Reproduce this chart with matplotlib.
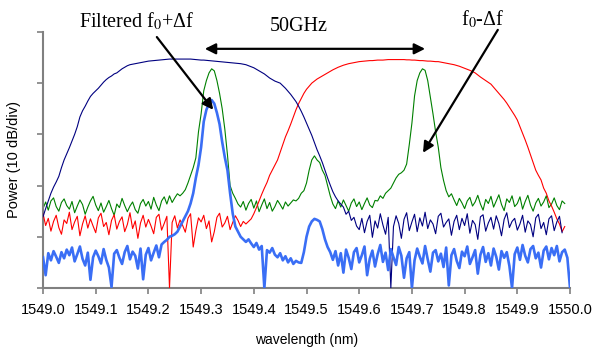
import numpy as np
import matplotlib
matplotlib.use('Agg')
import matplotlib.pyplot as plt

plt.rcParams['mathtext.fontset'] = 'stix'

# wavelength sampling grid (nm), 0.005 nm step
wl = np.linspace(1549.0, 1550.0, 201)

# power traces in dB (10 dB/div)
green = [
    -34.5, -33.2, -34.8, -33.0, -32.4, -34.1, -35.0, -33.3, -32.6, -33.9,
    -34.6, -33.1, -35.3, -34.0, -32.8, -33.7, -35.6, -34.2, -33.0, -32.1,
    -33.8, -34.9, -33.4, -35.2, -34.1, -32.9, -34.5, -35.8, -33.6, -34.3,
    -32.5, -33.9, -35.1, -34.0, -33.2, -34.7, -35.4, -33.5, -32.7, -34.0,
    -33.1, -34.6, -32.3, -33.8, -34.9, -33.0, -32.2, -33.6, -32.0, -33.3,
    -32.4, -31.6, -32.0, -31.5, -30.8, -29.5, -28.0, -26.5, -24.6, -19.5,
    -16.0, -11.5, -9.5, -8.0, -7.2, -7.6, -9.5, -12.0, -15.0, -19.0,
    -24.0, -30.0, -31.5, -32.5, -33.6, -34.2, -33.1, -34.8, -33.5, -32.7,
    -34.4, -33.0, -35.1, -33.8, -32.6, -34.5, -33.3, -35.0, -34.1, -32.9,
    -33.7, -34.6, -33.2, -34.0, -33.4, -32.8, -33.0, -32.5, -31.5, -31.0,
    -29.5, -27.0, -25.0, -24.2, -25.0, -25.5, -27.0, -28.0, -30.0, -32.0,
    -33.6, -34.5, -33.0, -34.2, -32.8, -33.9, -35.0, -33.4, -32.6, -34.1,
    -33.2, -34.7, -33.5, -32.4, -33.8, -34.3, -32.9, -33.0, -32.0, -32.5,
    -31.5, -31.0, -30.5, -29.5, -28.5, -27.8, -27.5, -27.0, -25.8, -22.0,
    -17.8, -12.5, -9.5, -8.0, -7.2, -7.5, -9.5, -12.7, -16.0, -19.5,
    -22.5, -26.5, -29.0, -31.0, -32.2, -31.6, -32.8, -33.9, -32.5, -33.4,
    -34.5, -33.0, -32.3, -34.0, -33.2, -31.9, -33.6, -34.8, -32.7, -33.5,
    -32.1, -34.2, -33.0, -31.8, -33.7, -34.9, -32.6, -33.3, -32.0, -34.1,
    -33.5, -32.2, -34.6, -33.1, -31.9, -33.8, -35.0, -33.4, -32.5, -34.0,
    -33.2, -32.0, -34.3, -33.6, -32.4, -33.9, -34.7, -33.0, -33.5, np.nan,
    np.nan]

filtered = [
    -44.0, -47.5, -43.2, -44.6, -42.8, -43.9, -45.1, -43.0, -44.2, -42.5,
    -43.6, -42.1, -44.8, -43.4, -41.9, -44.3, -45.6, -43.1, -48.4, -44.0,
    -42.7, -43.8, -45.2, -42.4, -44.5, -46.0, -49.8, -43.3, -42.6, -44.1,
    -45.3, -43.0, -41.8, -44.4, -42.9, -43.7, -46.2, -42.3, -48.3, -43.5,
    -42.2, -44.6, -43.1, -41.7, -44.0, -41.5, -41.0, -40.6, -40.0, -39.8,
    -39.5, -39.0, -38.0, -37.0, -36.0, -35.0, -33.5, -31.5, -28.5, -26.0,
    -22.5, -17.5, -15.2, -14.0, -13.3, -14.0, -15.8, -18.0, -21.5, -24.5,
    -27.0, -31.5, -35.5, -38.0, -39.0, -40.0, -40.5, -41.0, -40.5, -41.3,
    -42.0, -41.2, -42.5, -41.8, -50.0, -42.6, -43.1, -42.2, -43.5, -44.0,
    -43.2, -44.6, -43.8, -45.0, -44.2, -45.3, -44.7, -45.0, -45.1, -43.0,
    -40.0, -38.0, -37.0, -36.5, -36.7, -37.0, -38.5, -40.5, -42.0, -43.0,
    -44.5, -42.8, -45.6, -43.2, -47.0, -42.5, -44.1, -46.3, -43.0, -42.2,
    -45.0, -43.6, -41.9, -47.5, -44.3, -42.7, -45.8, -43.4, -41.6, -44.9,
    -43.1, -46.5, -42.4, -44.0, -45.5, -42.0, -43.7, -48.0, -44.2, -43.0,
    -50.0, -44.6, -42.3, -43.9, -45.2, -41.8, -44.4, -46.8, -43.1, -42.6,
    -44.8, -43.3, -45.9, -42.1, -49.5, -43.6, -42.4, -44.7, -46.1, -42.9,
    -43.8, -41.9, -45.3, -44.0, -42.6, -47.2, -43.5, -42.0, -44.9, -43.2,
    -45.6, -42.3, -43.9, -46.4, -42.8, -44.1, -43.0, -45.7, -50.0, -43.4,
    -42.1, -44.5, -41.6, -43.7, -45.0, -42.4, -41.8, -44.2, -43.1, -46.0,
    -42.7, -41.9, -44.4, -42.2, -43.6, -41.8, -44.8, -43.0, -42.5, -44.1,
    -50.0]

filter_minus = [
    -35.5, -37.8, -36.4, -38.9, -37.0, -35.8, -38.2, -39.5, -36.7, -37.4,
    -35.2, -38.6, -37.1, -36.0, -39.8, -37.5, -35.9, -38.3, -36.5, -37.9,
    -39.2, -36.3, -35.4, -38.0, -37.2, -39.6, -36.8, -35.7, -38.5, -37.0,
    -36.1, -39.0, -37.6, -35.3, -38.4, -36.9, -40.3, -37.3, -35.8, -38.1,
    -36.6, -37.9, -39.4, -36.2, -35.6, -38.7, -37.4, -36.0, -50.0, -37.2,
    -35.9, -38.3, -36.7, -37.8, -39.1, -36.4, -35.5, -42.0, -38.8, -36.3,
    -37.1, -35.8, -38.4, -36.9, -41.0, -39.0, -36.2, -35.4, -38.1, -37.3,
    -36.0, -38.6, -37.2, -35.9, -36.8, -38.0, -37.0, -37.5, -37.0, -36.5,
    -35.5, -34.3, -33.0, -31.7, -30.5, -29.4, -28.0, -27.0, -26.0, -25.0,
    -23.5, -22.0, -20.5, -19.3, -18.0, -16.6, -15.2, -14.0, -13.0, -12.0,
    -11.2, -10.6, -10.0, -9.6, -9.2, -8.9, -8.6, -8.3, -8.0, -7.7,
    -7.4, -7.15, -6.9, -6.7, -6.5, -6.35, -6.2, -6.1, -6.0, -5.9,
    -5.8, -5.75, -5.7, -5.65, -5.6, -5.6, -5.55, -5.5, -5.5, -5.5,
    -5.45, -5.4, -5.4, -5.4, -5.4, -5.4, -5.4, -5.4, -5.45, -5.45,
    -5.5, -5.5, -5.55, -5.6, -5.6, -5.65, -5.7, -5.7, -5.75, -5.8,
    -5.8, -5.9, -6.0, -6.1, -6.2, -6.3, -6.4, -6.55, -6.7, -6.9,
    -7.1, -7.3, -7.5, -7.75, -8.0, -8.4, -8.8, -9.15, -9.5, -9.85,
    -10.2, -10.8, -11.4, -12.0, -12.6, -13.2, -13.9, -14.7, -15.5, -16.3,
    -17.2, -18.5, -19.8, -21.1, -22.5, -24.0, -25.5, -27.0, -28.0, -28.9,
    -30.5, -31.5, -33.0, -34.0, -35.2, -36.5, -37.5, -39.0, -38.0, np.nan,
    np.nan]

filter_plus = [
    -36.1, -34.5, -33.0, -31.5, -30.3, -29.3, -28.2, -26.5, -25.0, -23.8,
    -22.6, -21.3, -20.0, -18.5, -16.6, -15.4, -14.5, -13.5, -12.6, -12.0,
    -11.5, -11.0, -10.4, -9.8, -9.3, -8.9, -8.6, -8.2, -8.0, -7.6,
    -7.2, -6.9, -6.6, -6.4, -6.3, -6.2, -6.1, -6.0, -5.9, -5.8,
    -5.7, -5.65, -5.6, -5.55, -5.5, -5.45, -5.4, -5.35, -5.3, -5.3,
    -5.3, -5.3, -5.3, -5.3, -5.3, -5.3, -5.3, -5.35, -5.4, -5.45,
    -5.5, -5.5, -5.55, -5.6, -5.65, -5.7, -5.75, -5.8, -5.85, -5.9,
    -5.95, -6.0, -6.05, -6.1, -6.15, -6.2, -6.3, -6.4, -6.6, -6.8,
    -7.0, -7.3, -7.6, -7.9, -8.2, -8.6, -9.0, -9.3, -9.6, -9.8,
    -10.0, -10.5, -11.0, -11.6, -12.2, -12.9, -13.6, -14.5, -15.5, -16.6,
    -17.8, -19.0, -20.2, -21.6, -23.0, -24.2, -25.5, -27.0, -28.5, -29.9,
    -31.2, -32.2, -33.0, -33.6, -34.2, -35.6, -35.0, -36.8, -36.2, -37.9,
    -38.6, -36.4, -39.2, -37.0, -35.8, -40.1, -36.9, -38.3, -35.5, -37.7,
    -39.5, -36.2, -50.0, -38.0, -35.9, -37.4, -40.3, -36.6, -35.3, -38.8,
    -37.1, -35.6, -39.0, -36.3, -37.9, -35.2, -38.4, -36.7, -37.5, -39.4,
    -36.0, -35.4, -38.1, -37.2, -36.5, -39.7, -37.0, -35.8, -38.6, -36.4,
    -37.8, -35.5, -39.3, -36.8, -37.6, -40.5, -36.1, -35.7, -38.9, -37.3,
    -36.2, -38.5, -35.9, -37.4, -39.8, -36.6, -35.3, -38.2, -37.0, -36.4,
    -38.7, -37.5, -35.8, -39.1, -36.9, -37.6, -40.0, -36.3, -35.6, -38.4,
    -37.2, -39.6, -36.5, -35.9, -38.8, -37.1, -36.0, -39.2, np.nan, np.nan,
    np.nan]

xtick_vals = [1549.0, 1549.1, 1549.2, 1549.3, 1549.4, 1549.5,
              1549.6, 1549.7, 1549.8, 1549.9, 1550.0]
ytick_vals = [-50, -40, -30, -20, -10, 0]

fig = plt.figure(figsize=(5.95, 3.47), dpi=100)
ax = fig.add_axes([0.0723, 0.170, 0.8857, 0.738])

ax.plot(wl, green, color='#008000', lw=0.8, zorder=2)
ax.plot(wl, filter_minus, color='#ff0000', lw=0.8, zorder=3)
ax.plot(wl, filter_plus, color='#000080', lw=0.8, zorder=3)
ax.plot(wl, filtered, color='#3a6ef5', lw=1.9, zorder=4)

ax.set_xlim(1549.0, 1550.0)
ax.set_ylim(-50, 0)
ax.set_xticks(xtick_vals)
ax.set_xticklabels([f'{v:.1f}' for v in xtick_vals],
                   fontfamily='Liberation Sans', fontsize=10.5)
ax.set_yticks(ytick_vals)
ax.set_yticklabels([])
ax.tick_params(axis='both', direction='out', length=4, width=1.2,
               color='#808080', pad=7)
for s in ['top', 'right']:
    ax.spines[s].set_visible(False)
for s in ['left', 'bottom']:
    ax.spines[s].set_color('#808080')
    ax.spines[s].set_linewidth(1.5)

ax.set_xlabel('wavelength (nm)', fontfamily='Liberation Sans', fontsize=10,
              labelpad=11)
ax.set_ylabel('Power (10 dB/div)', fontfamily='Liberation Sans', fontsize=10.5,
              labelpad=5)

serif = 'Liberation Serif'
ax.text(1549.178, 2.1, r'Filtered f$_0$+Δf', fontfamily=serif, fontsize=14.5,
        ha='center', va='center', clip_on=False)
ax.text(1549.486, 1.0, '50GHz', fontfamily=serif, fontsize=14.5,
        ha='center', va='center', clip_on=False)
ax.text(1549.835, 2.5, r'f$_0$-Δf', fontfamily=serif, fontsize=14.5,
        ha='center', va='center', clip_on=False)

head = dict(arrowstyle='-|>', color='black', lw=1.6,
            mutation_scale=16, shrinkA=0, shrinkB=0)
ax.annotate('', xy=(1549.307, -3.3), xytext=(1549.725, -3.3),
            arrowprops=dict(arrowstyle='<|-|>', color='black', lw=1.6,
                            mutation_scale=16, shrinkA=0, shrinkB=0),
            annotation_clip=False, zorder=6)
ax.annotate('', xy=(1549.323, -15.2), xytext=(1549.216, -1.0),
            arrowprops=head, annotation_clip=False, zorder=6)
ax.annotate('', xy=(1549.721, -23.6), xytext=(1549.863, 0.4),
            arrowprops=head, annotation_clip=False, zorder=6)

plt.savefig('out.png', dpi=100)
